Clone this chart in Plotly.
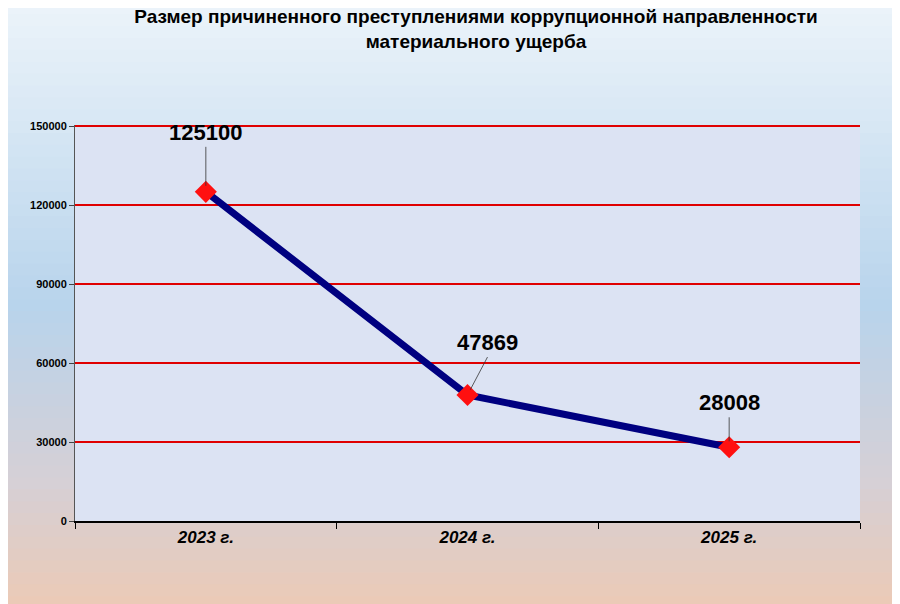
import plotly.graph_objects as go

years = ["2023 г.", "2024 г.", "2025 г."]
values = [125100, 47869, 28008]
labels = ["125100", "47869", "28008"]

fig = go.Figure()

stops = [(0.0, (246, 250, 253)), (0.5, (184, 212, 236)), (0.75, (214, 208, 214)), (1.0, (246, 200, 168))]
def col(t):
    for i in range(len(stops) - 1):
        a, ca = stops[i]; b, cb = stops[i + 1]
        if a <= t <= b:
            f = (t - a) / (b - a)
            return "rgb(%d,%d,%d)" % tuple(int(ca[k] + (cb[k] - ca[k]) * f) for k in range(3))
    return "rgb(246,200,168)"
shapes = []
n = 60
for i in range(n):
    t = i / n
    shapes.append(dict(type="rect", xref="paper", yref="paper", x0=-0.5, x1=1.5,
                       y0=1.45 - (i + 1) / n * 1.8, y1=1.45 - i / n * 1.8 + 0.01,
                       fillcolor=col(t), line=dict(width=0), layer="below"))
shapes.append(dict(type="rect", xref="paper", yref="paper", x0=0, x1=1, y0=0, y1=1,
                   fillcolor="#dce3f3", line=dict(width=0), layer="below"))

fig.add_trace(go.Scatter(x=years, y=values, mode="lines+markers",
                         line=dict(color="#000080", width=7),
                         marker=dict(symbol="diamond", size=17, color="#ff1010")))

offs = [(0, -45), (20, -38), (0, -30)]
for x, y, t, (ax, ay) in zip(years, values, labels, offs):
    fig.add_annotation(x=x, y=y, text="<b>%s</b>" % t, showarrow=True, arrowhead=0,
                       arrowwidth=0.8, arrowcolor="#333", ax=ax, ay=ay, standoff=6,
                       font=dict(size=22, color="black", family="Arial"), yanchor="bottom")

fig.update_layout(
    width=900, height=604, paper_bgcolor="#eef3f9", plot_bgcolor="rgba(0,0,0,0)",
    margin=dict(l=67, r=48, t=117, b=91), shapes=shapes, showlegend=False,
    font=dict(family="Arial"),
    title=dict(text="<b>Размер причиненного преступлениями коррупционной направленности<br>материального ущерба</b>",
               x=0.52, xanchor="center", y=0.975, yanchor="top", font=dict(size=19, color="black")),
    xaxis=dict(range=[-0.5, 2.5], tickson="boundaries", ticks="outside", ticklen=6, tickcolor="black",
               showline=True, linecolor="black", linewidth=2, showgrid=False,
               tickfont=dict(size=17, color="black", family="Arial"),
               ticktext=["<b><i>%s</i></b>" % y for y in years], tickvals=years),
    yaxis=dict(range=[0, 150500], dtick=30000, gridcolor="#e00000", gridwidth=2,
               showline=True, linecolor="#555", linewidth=1, ticks="outside", ticklen=5,
               tickfont=dict(size=11, color="black"), tickformat="d",
               tickprefix="<b>", ticksuffix="</b>", zeroline=False),
)
fig.write_html("out.html")
